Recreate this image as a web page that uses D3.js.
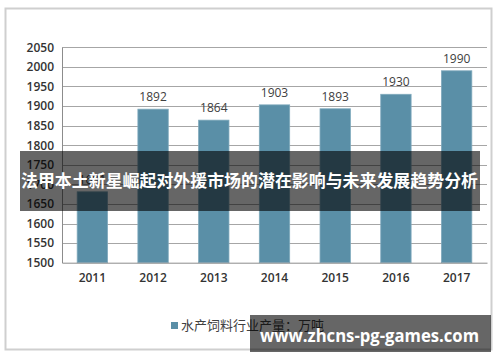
<!DOCTYPE html>
<html>
<head>
<meta charset="utf-8">
<script src="https://d3js.org/d3.v7.min.js"></script>
<style>
  body { margin: 0; background: #fff; }
</style>
</head>
<body>
<div id="graph"></div>
<script>
var w = 500, h = 362;

var years = ["2011", "2012", "2013", "2014", "2015", "2016", "2017"];
var output = [1681, 1892, 1864, 1903, 1893, 1930, 1990];
var yTicks = [1500, 1550, 1600, 1650, 1700, 1750, 1800, 1850, 1900, 1950, 2000, 2050];
var legendLabel = "水产饲料行业产量：万吨";
var bannerText = "法甲本土新星崛起对外援市场的潜在影响与未来发展趋势分析";
var siteText = "www.zhcns-pg-games.com";

var plot = {left: 62, right: 487, top: 47.3, bottom: 262.7};
var font = "'Open Sans', 'Noto Sans CJK SC', sans-serif";

var svg = d3.select("#graph").append("svg")
  .attr("width", w).attr("height", h);

// chart frame
svg.append("rect")
  .attr("x", 5.5).attr("y", 8.5)
  .attr("width", 486).attr("height", 341)
  .attr("fill", "#fff")
  .attr("stroke", "#cfcfcf")
  .attr("stroke-width", 2);

var x = d3.scaleBand()
  .domain(years)
  .range([plot.left, plot.right])
  .paddingInner(0.5)
  .paddingOuter(0.25);

var y = d3.scaleLinear()
  .domain([1500, 2050])
  .range([plot.bottom, plot.top]);

// gridlines
svg.append("g").selectAll("line")
  .data(yTicks.slice(1))
  .enter().append("line")
  .attr("x1", plot.left).attr("x2", plot.right)
  .attr("y1", function(d) { return Math.round(y(d)) + 0.5; })
  .attr("y2", function(d) { return Math.round(y(d)) + 0.5; })
  .attr("stroke", "#a6a6a6")
  .attr("stroke-width", 1);

// y axis
var yAxis = svg.append("g")
  .attr("transform", "translate(" + plot.left + ",0)")
  .call(d3.axisLeft(y).tickValues(yTicks).tickFormat(d3.format("d")).tickSize(0).tickPadding(8));
yAxis.select(".domain").attr("stroke", "#8c8c8c");
yAxis.selectAll("text")
  .attr("font-family", font)
  .attr("font-size", "12px")
  .attr("font-weight", 600)
  .attr("fill", "#333");

// bars
svg.append("g").selectAll("rect")
  .data(output)
  .enter().append("rect")
  .attr("x", function(d, i) { return x(years[i]); })
  .attr("y", function(d) { return y(d); })
  .attr("width", x.bandwidth())
  .attr("height", function(d) { return plot.bottom - y(d); })
  .attr("fill", "#5a8fa7")
  .attr("stroke", "#7fa9bc")
  .attr("stroke-width", 0.8);

// x axis
var xAxis = svg.append("g")
  .attr("transform", "translate(0," + plot.bottom + ")")
  .call(d3.axisBottom(x).tickSize(0).tickPadding(11));
xAxis.select(".domain").attr("stroke", "#8c8c8c");
xAxis.selectAll("text")
  .attr("font-family", font)
  .attr("font-size", "12px")
  .attr("font-weight", 600)
  .attr("fill", "#333");

// value labels
svg.append("g").selectAll("text")
  .data(output)
  .enter().append("text")
  .text(function(d) { return d; })
  .attr("text-anchor", "middle")
  .attr("x", function(d, i) { return x(years[i]) + x.bandwidth() / 2; })
  .attr("y", function(d) { return y(d) - 8; })
  .attr("font-family", font)
  .attr("font-size", "12px")
  .attr("fill", "#404040");

// legend
svg.append("rect")
  .attr("x", 171).attr("y", 322)
  .attr("width", 7).attr("height", 7)
  .attr("fill", "#5a8fa7");
svg.append("text")
  .attr("x", 181).attr("y", 330)
  .text(legendLabel)
  .attr("font-family", "'Noto Sans CJK SC', sans-serif")
  .attr("font-size", "13px")
  .attr("fill", "#404040");

// title banner overlay
svg.append("rect")
  .attr("x", 20).attr("y", 151)
  .attr("width", 460).attr("height", 60)
  .attr("fill", "rgba(0,0,0,0.6)");
svg.append("text")
  .attr("x", 21).attr("y", 187)
  .text(bannerText)
  .attr("textLength", 457)
  .attr("lengthAdjust", "spacingAndGlyphs")
  .attr("font-family", "'Noto Sans CJK SC', sans-serif")
  .attr("font-size", "16.5px")
  .attr("font-weight", 700)
  .attr("fill", "#fff");

// site watermark
svg.append("rect")
  .attr("x", 250).attr("y", 315)
  .attr("width", 241).attr("height", 37)
  .attr("fill", "rgba(0,0,0,0.6)");
svg.append("text")
  .attr("x", 260).attr("y", 342)
  .text(siteText)
  .attr("textLength", 219)
  .attr("lengthAdjust", "spacingAndGlyphs")
  .attr("font-family", "'Open Sans', sans-serif")
  .attr("font-size", "18px")
  .attr("font-weight", 700)
  .attr("fill", "#fff");
</script>
</body>
</html>
